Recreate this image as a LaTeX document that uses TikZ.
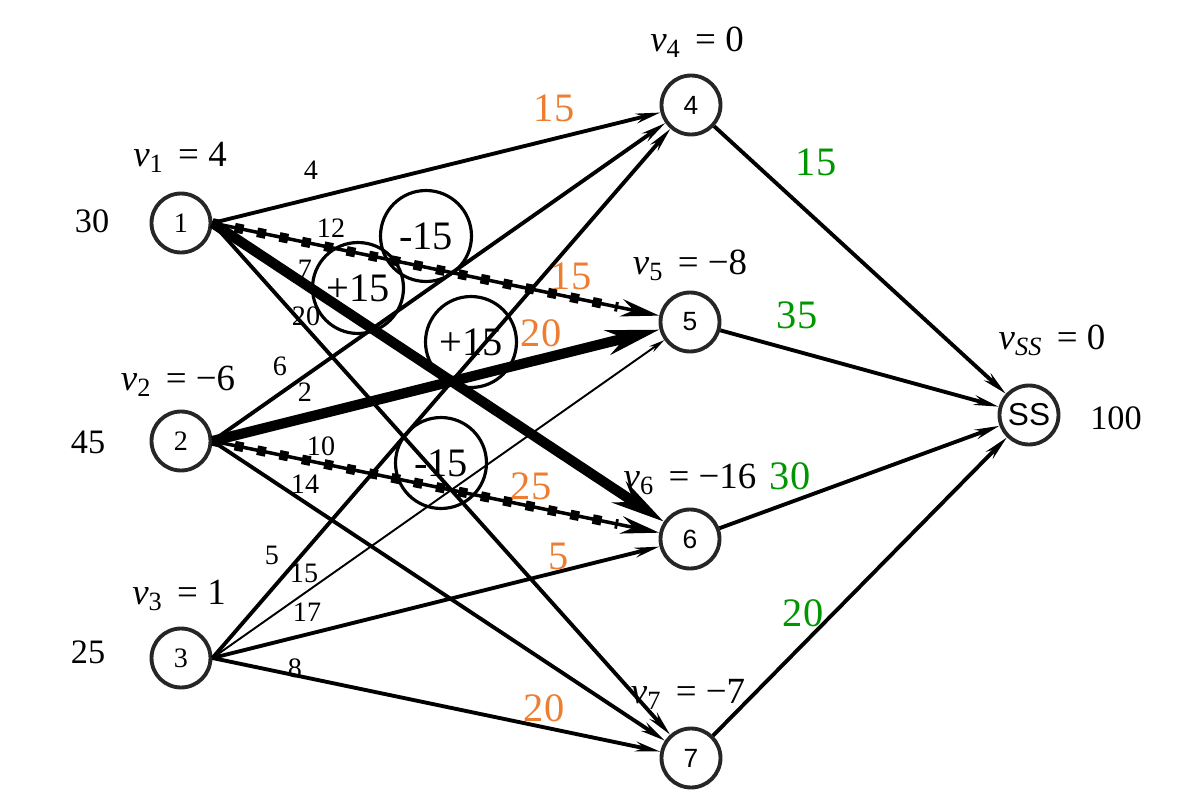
\documentclass[tikz,border=0pt]{standalone}
\usepackage{fontspec}
\setmainfont{Liberation Serif}
\setsansfont{Liberation Sans}
\usetikzlibrary{arrows.meta}
\definecolor{CostOrange}{RGB}{237,125,49}
\definecolor{FlowGreen}{RGB}{0,150,0}
\newcommand{\pot}[2]{\textit{v}\raisebox{-0.35ex}{\fontsize{15}{15}\selectfont #1}\ \,=\ #2}

\begin{document}
\begin{tikzpicture}[x=0.02cm, y=-0.02cm,
  vert/.style={draw=black!85, circle, line width=2.2pt, minimum size=1.18cm, inner sep=0pt, font=\rmfamily\fontsize{16}{16}\selectfont},
  svert/.style={vert, font=\sffamily\fontsize{15}{15}\selectfont},
  arc/.style={-{Stealth[length=14pt,width=5.5pt]}, line width=2.2pt},
  thinarc/.style={-{Stealth[length=9pt,width=4pt]}, line width=1.1pt},
  heavy/.style={-{Stealth[length=30pt,width=14pt]}, line width=5.8pt},
  cyc/.style={-{Stealth[length=22pt,width=10pt]}, line width=2pt,
    postaction={draw, -, line width=5.5pt, dash pattern=on 5pt off 8pt, shorten >=24pt}},
  loopmark/.style={draw, circle, line width=1.8pt, minimum size=1.82cm, inner sep=0pt, font=\rmfamily\fontsize{23}{23}\selectfont},
  wlab/.style={font=\rmfamily\fontsize{16}{16}\selectfont},
  big/.style={font=\rmfamily\fontsize{19.5}{19.5}\selectfont},
  potlab/.style={font=\rmfamily\fontsize{21}{21}\selectfont},
  olab/.style={text=CostOrange, font=\rmfamily\fontsize{23}{23}\selectfont},
  glab/.style={text=FlowGreen, font=\rmfamily\fontsize{23}{23}\selectfont}]
  \useasboundingbox (0,0) rectangle (1181,811);

  \node[vert] (n1) at (181,223) {1};
  \node[vert] (n2) at (181,441) {2};
  \node[vert] (n3) at (181,658) {3};
  \node[svert] (n4) at (691,105) {4};
  \node[svert] (n5) at (690,322) {5};
  \node[svert] (n6) at (690,539) {6};
  \node[svert] (n7) at (691,758) {7};
  \node[vert, font=\sffamily\fontsize{18}{18}\selectfont] (ss) at (1029,415) {SS};

  \draw[arc] (n1.east) -- (n4);
  \draw[cyc] (n1.east) -- (n5);
  \draw[heavy] (n1.east) -- (n6);
  \draw[arc] (n1.east) -- (n7);
  \draw[arc] (n2.east) -- (n4);
  \draw[heavy] (n2.east) -- (n5);
  \draw[cyc] (n2.east) -- (n6);
  \draw[arc] (n2.east) -- (n7);
  \draw[arc] (n3.east) -- (n4);
  \draw[thinarc] (n3.east) -- (n5);
  \draw[arc] (n3.east) -- (n6);
  \draw[arc] (n3.east) -- (n7);
  \draw[arc] (n4) -- (ss);
  \draw[arc] (n5) -- (ss);
  \draw[arc] (n6) -- (ss);
  \draw[arc] (n7) -- (ss);

  \node[loopmark] (m1) at (426,236) {-15};
  \node[loopmark] (m2) at (358,288) {+15};
  \node[loopmark] (m3) at (471,342) {+15};
  \node[loopmark] (m4) at (441,463) {-15};

  \node[big] (s1) at (92,221) {30};
  \node[big] (s2) at (88,442) {45};
  \node[big] (s3) at (88,652) {25};
  \node[big] (dss) at (1116,418) {100};

  \node[potlab] (v1) at (180,157) {\pot{1}{4}};
  \node[potlab] (v2) at (178,381) {\pot{2}{−6}};
  \node[potlab] (v3) at (179,595) {\pot{3}{1}};
  \node[potlab] (v4) at (697,42) {\pot{4}{0}};
  \node[potlab] (v5) at (690,265) {\pot{5}{−8}};
  \node[potlab] (v6) at (690,479) {\pot{6}{−16}};
  \node[potlab] (v7) at (688,694) {\pot{7}{−7}};
  \node[potlab] (vss) at (1052,340) {\pot{\textit{SS}}{0}};

  \node[wlab] (w14) at (311,170) {4};
  \node[wlab] (w15) at (331,228) {12};
  \node[wlab] (w16) at (305,269) {7};
  \node[wlab] (w17) at (306,316) {20};
  \node[wlab] (w24) at (280,366) {6};
  \node[wlab] (w25) at (305,392) {2};
  \node[wlab] (w26) at (321,446) {10};
  \node[wlab] (w27) at (305,484) {14};
  \node[wlab] (w34) at (272,555) {5};
  \node[wlab] (w35) at (304,573) {15};
  \node[wlab] (w36) at (307,612) {17};
  \node[wlab] (w37) at (295,668) {8};

  \node[olab] (f14) at (554,108) {15};
  \node[olab] (f15) at (571,276) {15};
  \node[olab] (f25) at (541,333) {20};
  \node[olab] (f26) at (531,486) {25};
  \node[olab] (f36) at (559,556) {5};
  \node[olab] (f37) at (544,708) {20};

  \node[glab] (g4) at (816,162) {15};
  \node[glab] (g5) at (797,315) {35};
  \node[glab] (g6) at (790,476) {30};
  \node[glab] (g7) at (803,613) {20};
\end{tikzpicture}
\end{document}
